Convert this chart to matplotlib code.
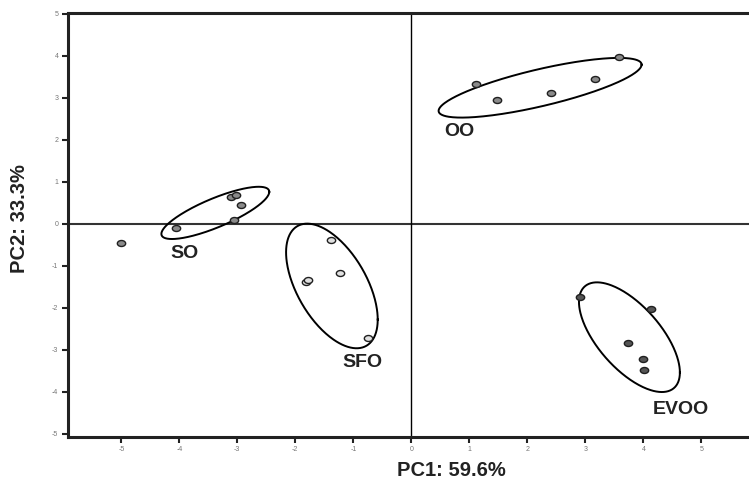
import numpy as np
import matplotlib
matplotlib.use('Agg')
import matplotlib.pyplot as plt
from matplotlib.path import Path
from matplotlib.transforms import Affine2D

plt.rcParams['font.family'] = ['Liberation Sans', 'DejaVu Sans']
plt.rcParams['axes.unicode_minus'] = False

# PCA scores per oil group
oo_pc1 = [1.12, 1.47, 2.40, 3.17, 3.58]
oo_pc2 = [3.32, 2.96, 3.11, 3.44, 3.97]
so_pc1 = [-5.00, -4.06, -3.11, -3.02, -2.94, -3.05]
so_pc2 = [-0.46, -0.09, 0.63, 0.68, 0.44, 0.10]
sfo_pc1 = [-1.39, -1.23, -1.82, -1.79, -0.74]
sfo_pc2 = [-0.39, -1.16, -1.39, -1.33, -2.71]
evoo_pc1 = [2.91, 4.14, 3.73, 4.00, 4.01]
evoo_pc2 = [-1.75, -2.04, -2.85, -3.23, -3.47]

# group ellipses: centre, offset to extreme-x point, half vertical chord
ell_center = {'OO': (2.22, 3.24), 'SO': (-3.38, 0.26), 'SFO': (-1.37, -1.48), 'EVOO': (3.76, -2.70)}
ell_axis = {'OO': (1.75, 0.55), 'SO': (0.93, 0.50), 'SFO': (0.79, -0.80), 'EVOO': (0.87, -0.84)}
ell_half = {'OO': 0.45, 'SO': 0.37, 'SFO': 1.25, 'EVOO': 1.0}

# group labels
lab_text = ['OO', 'SO', 'SFO', 'EVOO']
lab_x = [0.82, -3.91, -0.84, 4.64]
lab_y = [2.19, -0.71, -3.30, -4.43]

x_ticks = [-5, -4, -3, -2, -1, 0, 1, 2, 3, 4, 5]
y_ticks = [-5, -4, -3, -2, -1, 0, 1, 2, 3, 4, 5]

fig = plt.figure(figsize=(7.49, 4.8), dpi=100)
fig.patch.set_facecolor('white')
ax = fig.add_axes([0.0908, 0.0902, 0.923, 0.8827])

# flattened ellipse marker
oval = Path.unit_circle().transformed(Affine2D().scale(1.0, 0.72))

ax.axhline(0, color='#333333', linewidth=1.5, zorder=1)
ax.axvline(0, color='black', linewidth=1.0, zorder=1)

t = np.linspace(0, 2 * np.pi, 300)
for g in lab_text:
    cx, cy = ell_center[g]
    axx, axy = ell_axis[g]
    bh = ell_half[g]
    ax.plot(cx + axx * np.cos(t), cy + axy * np.cos(t) + bh * np.sin(t),
            color='black', linewidth=1.4, zorder=2)

ax.plot(oo_pc1, oo_pc2, linestyle='none', marker=oval, markersize=6,
        markerfacecolor='#8a8a8a', markeredgecolor='#202020', markeredgewidth=1.0, zorder=3)
ax.plot(so_pc1, so_pc2, linestyle='none', marker=oval, markersize=6,
        markerfacecolor='#8a8a8a', markeredgecolor='#202020', markeredgewidth=1.0, zorder=3)
ax.plot(sfo_pc1, sfo_pc2, linestyle='none', marker=oval, markersize=6,
        markerfacecolor='#e0e0e0', markeredgecolor='#202020', markeredgewidth=1.0, zorder=3)
ax.plot(evoo_pc1, evoo_pc2, linestyle='none', marker=oval, markersize=6,
        markerfacecolor='#555555', markeredgecolor='#202020', markeredgewidth=1.0, zorder=3)

for s, x, y in zip(lab_text, lab_x, lab_y):
    ax.text(x, y, s, fontsize=14, fontweight='bold', color='#222222',
            ha='center', va='center')

ax.set_xlim(-5.92, 6.0)
ax.set_ylim(-5.07, 5.02)
ax.set_xticks(x_ticks)
ax.set_yticks(y_ticks)
ax.tick_params(axis='both', direction='out', length=4, width=1.5, color='#222222',
               labelsize=5, labelcolor='#777777', pad=3)

for side in ['left', 'bottom', 'top']:
    ax.spines[side].set_linewidth(2.2)
    ax.spines[side].set_color('#222222')
ax.spines['right'].set_visible(False)

fig.text(451 / 749, 1 - 470 / 480, 'PC1: 59.6%', fontsize=14.5, fontweight='bold',
         color='#222222', ha='center', va='center')
fig.text(20 / 749, 1 - 219 / 480, 'PC2: 33.3%', fontsize=14.5, fontweight='bold',
         color='#222222', ha='center', va='center', rotation=90)

fig.savefig('out.png', dpi=100, facecolor='white')
